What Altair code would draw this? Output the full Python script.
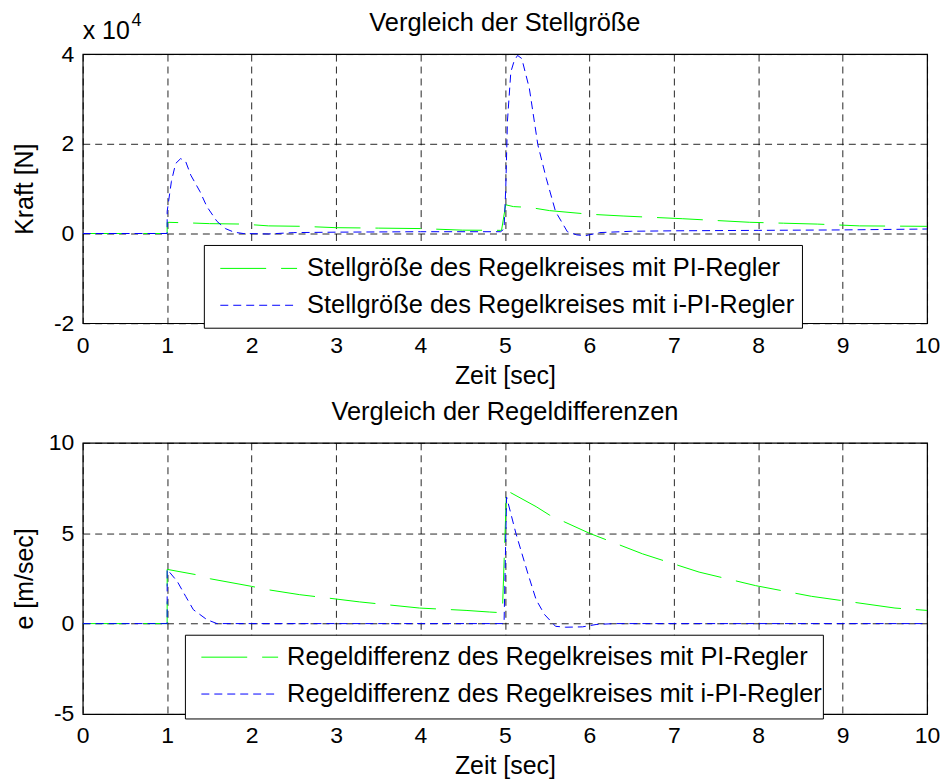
import altair as alt
import pandas as pd

FONT = "Liberation Sans"

# ---------- data: top panel (Stellgröße, N) ----------
t_u_pi = [0, 1.0, 1.0, 1.2, 1.5, 1.9, 2.2, 2.6, 3.0, 3.5, 4.0, 4.5, 4.96, 5.01, 5.1, 5.3, 5.53, 6.0, 6.4, 7.1, 7.4, 7.9, 8.3, 8.7, 9.2, 10.0]
u_pi = [0, 0, 2500, 2400, 2200, 2100, 1700, 1600, 1300, 1200, 1100, 750, 700, 6400, 6000, 5800, 5100, 4300, 3900, 3300, 3000, 2500, 2300, 2100, 1700, 1600]

t_u_ipi = [0, 1.0, 1.0, 1.05, 1.1, 1.16, 1.22, 1.28, 1.39, 1.47, 1.59, 1.69, 1.79, 1.9, 2.2, 2.5, 3.0, 4.0, 4.95,
           4.99, 5.01, 5.03, 5.07, 5.11, 5.15, 5.2, 5.29, 5.39, 5.49, 5.6, 5.74, 5.85, 5.95, 6.12, 6.5, 7.0, 8.0, 9.0, 10.0]
u_ipi = [0, 0, 4900, 11600, 15600, 16700, 16000, 13000, 9300, 6000, 2700, 1100, 300, 0, -100, 200, 300, 400, 400,
         1000, 10000, 25000, 36000, 38500, 39700, 39000, 32300, 19800, 12300, 4900, 400, -300, -500, 200, 500, 600, 700, 800, 1000]

# ---------- data: bottom panel (Regeldifferenz, m/sec) ----------
t_e_pi = [0, 1.0, 1.0, 1.35, 1.51, 2.0, 2.2, 2.57, 3.0, 3.28, 3.99, 4.54, 4.82, 4.97, 5.02, 5.05, 5.37, 5.53, 6.0, 6.63, 7.3, 7.97, 8.63, 9.62, 10.0]
e_pi = [0, 0, 3.0, 2.7, 2.48, 2.06, 1.87, 1.6, 1.36, 1.2, 0.86, 0.73, 0.64, 0.6, 7.5, 7.29, 6.47, 6.0, 5.0, 3.86, 2.85, 2.1, 1.51, 0.86, 0.73]

t_e_ipi = [0, 1.0, 1.0, 1.12, 1.22, 1.31, 1.47, 1.59, 2.0, 3.0, 4.0, 4.99, 5.02, 5.13, 5.27, 5.37, 5.47, 5.6, 5.72, 5.92, 6.08, 6.3, 7.0, 8.0, 9.0, 10.0]
e_ipi = [0, 0, 3.0, 2.33, 1.5, 0.77, 0.22, 0.0, 0, 0, 0, 0, 7.0, 5.0, 2.8, 1.32, 0.5, -0.15, -0.2, -0.18, -0.05, 0, 0, 0, 0, 0]

lbl_u = ["Stellgröße des Regelkreises mit PI-Regler", "Stellgröße des Regelkreises mit i-PI-Regler"]
lbl_e = ["Regeldifferenz des Regelkreises mit PI-Regler", "Regeldifferenz des Regelkreises mit i-PI-Regler"]

x_ticks = list(range(0, 11))
y_ticks_u = [-20000, 0, 20000, 40000]
y_ticks_e = [-5, 0, 5, 10]

COLORS = ["#00ff00", "#0000ff"]
DASHES = [[46, 15], [8, 5]]
W = 847
TXT = 25.5


def frame(ts, ys, label):
    return pd.DataFrame({"t": ts, "v": ys, "s": label, "o": range(len(ts))})


def panel(df, labels, yticks, ydom, ytitle, title, label_expr, H, box, sym_x, text_x, rows_y):
    cscale = alt.Scale(domain=labels, range=COLORS)
    dscale = alt.Scale(domain=labels, range=DASHES)
    lines = alt.Chart(df).mark_line(strokeWidth=1, clip=True).encode(
        x=alt.X("t:Q", scale=alt.Scale(domain=[0, 10], nice=False),
                axis=alt.Axis(values=x_ticks, title="Zeit [sec]", labelFlush=False)),
        y=alt.Y("v:Q", scale=alt.Scale(domain=ydom, nice=False, zero=False),
                axis=alt.Axis(values=yticks, title=ytitle, labelExpr=label_expr, labelFlush=False,
                              titleX=-50, titleY=H / 2, titleBaseline="alphabetic", titleAngle=270,
                              titleAlign="center")),
        color=alt.Color("s:N", scale=cscale, legend=None),
        strokeDash=alt.StrokeDash("s:N", scale=dscale, legend=None),
        order="o:Q",
    )
    one = pd.DataFrame({"k": [0]})
    rect = alt.Chart(one).mark_rect(fill="white", stroke="black", strokeWidth=1).encode(
        x=alt.value(box[0]), x2=alt.value(box[1]), y=alt.value(box[2]), y2=alt.value(box[3]))
    layers = [lines, rect]
    for i, lab in enumerate(labels):
        d = pd.DataFrame({"s": [lab]})
        layers.append(alt.Chart(d).mark_rule(strokeWidth=1).encode(
            x=alt.value(sym_x[0]), x2=alt.value(sym_x[1]), y=alt.value(rows_y[i]),
            color=alt.Color("s:N", scale=cscale, legend=None),
            strokeDash=alt.StrokeDash("s:N", scale=dscale, legend=None)))
        layers.append(alt.Chart(d).mark_text(align="left", baseline="middle", fontSize=TXT, font=FONT,
                                             color="black").encode(
            x=alt.value(text_x), y=alt.value(rows_y[i]), text="s:N"))
    tdf = pd.DataFrame({"t": [title]})
    layers.append(alt.Chart(tdf).mark_text(align="center", baseline="alphabetic", fontSize=TXT, font=FONT,
                                           color="black").encode(
        x=alt.value(W / 2), y=alt.value(-23), text="t:N"))
    return alt.layer(*layers).properties(width=W, height=H)


df_u = pd.concat([frame(t_u_pi, u_pi, lbl_u[0]), frame(t_u_ipi, u_ipi, lbl_u[1])])
df_e = pd.concat([frame(t_e_pi, e_pi, lbl_e[0]), frame(t_e_ipi, e_ipi, lbl_e[1])])

top = panel(df_u, lbl_u, y_ticks_u, [-20000, 40000], "Kraft [N]", "Vergleich der Stellgröße",
            "datum.value / 10000", 270, (122, 722, 192, 275), (138, 215), 225, (215, 252))
exp_df = pd.DataFrame({"a": ["x 10"], "b": ["4"]})
exp1 = alt.Chart(exp_df).mark_text(align="left", baseline="alphabetic", fontSize=25, font=FONT, color="black").encode(
    x=alt.value(0), y=alt.value(-15), text="a:N")
exp2 = alt.Chart(exp_df).mark_text(align="left", baseline="alphabetic", fontSize=18, font=FONT, color="black").encode(
    x=alt.value(49), y=alt.value(-28), text="b:N")
top = alt.layer(top, exp1, exp2)

bottom = panel(df_e, lbl_e, y_ticks_e, [-5, 10], "e [m/sec]", "Vergleich der Regeldifferenzen",
               "datum.value", 272, (103, 743, 193, 277), (119, 196), 205, (215, 252))

chart = alt.vconcat(top, bottom, spacing=10).resolve_scale(
    color="independent", strokeDash="independent", x="independent", y="independent"
).configure(
    font=FONT,
).configure_view(
    stroke="black", strokeWidth=1.2,
).configure_axis(
    grid=True, gridDash=[7, 5], gridColor="black", gridOpacity=0.85, gridWidth=1,
    domain=False, ticks=False, labelFontSize=23, titleFontSize=25, labelFont=FONT, titleFont=FONT,
    labelColor="black", titleColor="black", titleFontWeight="normal",
).configure_axisX(labelPadding=11, titlePadding=6).configure_axisY(labelPadding=9).properties(
    padding={"left": 12, "top": 9, "right": 5, "bottom": 5}
)

chart.save("out.html", embed_options={"renderer": "svg", "actions": False})
